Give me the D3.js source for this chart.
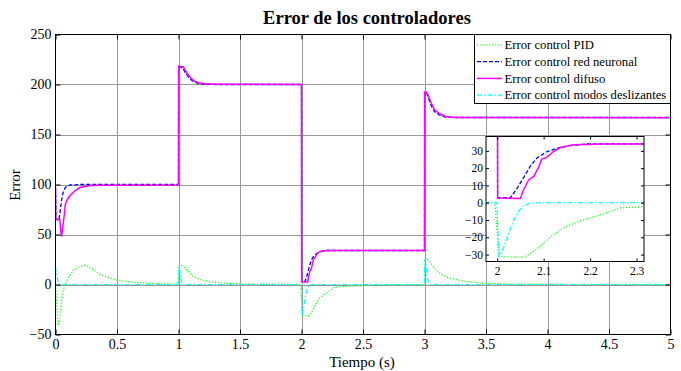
<!DOCTYPE html>
<html>
<head>
<meta charset="utf-8">
<script src="https://cdn.jsdelivr.net/npm/d3@7"></script>
<style>
  body { margin: 0; background: #fff; }
  text { font-family: "Liberation Serif", "Times New Roman", serif; fill: #000; }
</style>
</head>
<body>
<script>
// size of the page
var w = 681;
var h = 371;

// series: time (s) and error values
var tPID = [0, 0.01, 0.022, 0.035, 0.048, 0.062, 0.08, 0.104, 0.145, 0.186, 0.24, 0.295, 0.35, 0.42, 0.48, 0.55, 0.65, 0.8, 1.0,
            1.005, 1.014, 1.04, 1.08, 1.12, 1.175, 1.256, 1.337, 1.5, 1.991, 1.995, 2.004, 2.036, 2.057, 2.075, 2.093,
            2.121, 2.146, 2.179, 2.229, 2.264, 2.314, 2.4, 2.5, 2.7, 3.0, 3.005, 3.015, 3.05, 3.09, 3.14, 3.2, 3.28,
            3.36, 3.5, 3.7, 5.0];
var ePID = [0, -20, -41, -32, -19, -6, 0, 7, 14, 17.5, 19.3, 16, 11, 7.5, 5, 3.5, 2, 1, 0.3,
            19, 20, 18, 13, 8, 5, 2.7, 1.7, 0.5, 0.2, 0, -31, -31.5, -31.5, -29, -25,
            -18.5, -14, -10.5, -6.5, -3, -2.3, -1.7, -1, -0.3, 0, 26, 26.5, 21.7, 15, 10, 6.7, 4.3,
            2.7, 1.2, 0.4, 0];

var tNeural = [0, 0.003, 0.015, 0.027, 0.04, 0.05, 0.062, 0.08, 0.095, 0.12, 0.2, 1.0,
               1.001, 1.03, 1.06, 1.09, 1.12, 1.16, 1.2, 1.3, 2.0,
               2.001, 2.029, 2.043, 2.057, 2.071, 2.086, 2.107, 2.129, 2.157, 2.193, 2.25, 3.0,
               3.001, 3.02, 3.05, 3.08, 3.12, 3.17, 3.25, 5.0];
var eNeural = [97, 66, 65, 64, 75, 85, 92, 97, 98.5, 99.5, 100, 100,
               218, 217, 211, 206, 203, 201, 200.5, 200, 200,
               3, 3, 8.5, 14.5, 21, 26, 29.5, 31.5, 33, 34, 34, 34,
               192, 191, 180, 173, 169.5, 167.5, 167, 167];

var tFuzzy = [0, 0.003, 0.035, 0.046, 0.05, 0.06, 0.068, 0.08, 0.1, 0.12, 0.16, 0.2, 0.28, 0.4, 1.0,
              1.001, 1.04, 1.07, 1.1, 1.13, 1.16, 1.2, 1.3, 2.0,
              2.001, 2.05, 2.057, 2.068, 2.079, 2.089, 2.096, 2.107, 2.121, 2.136, 2.164, 2.229, 3.0,
              3.001, 3.02, 3.05, 3.08, 3.12, 3.17, 3.25, 5.0];
var eFuzzy = [97, 65, 65, 50, 48, 58, 66, 80, 86, 89, 94, 97, 99, 99.3, 99.5,
              218.3, 217.5, 211, 206.5, 203.5, 201.8, 201, 200.3, 200,
              2.7, 2.5, 7.5, 13.3, 15.2, 20.4, 25.2, 26.2, 29.6, 31.9, 33.5, 34, 34,
              192.5, 192, 183, 175, 171, 168, 167, 166.7];

var tSliding = [0, 0.01, 0.02, 0.03, 1.0, 1.003, 1.01, 1.02, 1.03, 1.986, 1.999, 2.004, 2.014, 2.029,
                2.043, 2.057, 2.071, 2.1, 3.0, 3.003, 3.01, 3.02, 3.035, 3.05, 5.0];
var eSliding = [18, 10, 3, 0, 0, 18, 14, 5, 0, 0, 0, -31, -26, -14.6,
                -6, -1.7, -0.2, 0, 0, 25, 20, 8, 2, 0, 0];

var seriesNames = ["Error control PID", "Error control red neuronal", "Error control difuso", "Error control modos deslizantes"];
var xTicks = [0, 0.5, 1, 1.5, 2, 2.5, 3, 3.5, 4, 4.5, 5];
var yTicks = [-50, 0, 50, 100, 150, 200, 250];
var insetXTicks = [2, 2.1, 2.2, 2.3];
var insetYTicks = [-30, -20, -10, 0, 10, 20, 30];

// styles for each series
var colors = ["#00ff00", "#0000ff", "#ff00ff", "#00ffff"];
var dashes = ["1.2,1.8", "4,2", null, "5,2,1.5,2"];
var widths = [1.2, 1.3, 1.5, 1.2];

var series = [
  d3.zip(tPID, ePID),
  d3.zip(tNeural, eNeural),
  d3.zip(tFuzzy, eFuzzy),
  d3.zip(tSliding, eSliding)
];

var svg = d3.select("body").append("svg")
  .attr("width", w)
  .attr("height", h);

var x = d3.scaleLinear().domain([0, 5]).range([55.5, 670.5]);
var y = d3.scaleLinear().domain([-50, 250]).range([334.5, 34.5]);

// grid
svg.append("g").selectAll("line").data(xTicks.slice(1, -1)).enter().append("line")
  .attr("x1", function(d) { return Math.round(x(d)) + 0.5; })
  .attr("x2", function(d) { return Math.round(x(d)) + 0.5; })
  .attr("y1", y(-50)).attr("y2", y(250))
  .attr("stroke", "#999").attr("stroke-width", 1);
svg.append("g").selectAll("line").data(yTicks.slice(1, -1)).enter().append("line")
  .attr("y1", function(d) { return Math.round(y(d)) + 0.5; })
  .attr("y2", function(d) { return Math.round(y(d)) + 0.5; })
  .attr("x1", x(0)).attr("x2", x(5))
  .attr("stroke", "#999").attr("stroke-width", 1);

// clip paths
var defs = svg.append("defs");
defs.append("clipPath").attr("id", "mainClip").append("rect")
  .attr("x", x(0)).attr("y", y(250)).attr("width", x(5) - x(0)).attr("height", y(-50) - y(250));

// main lines
var line = d3.line().x(function(d) { return x(d[0]); }).y(function(d) { return y(d[1]); });
var gMain = svg.append("g").attr("clip-path", "url(#mainClip)");
series.forEach(function(s, i) {
  gMain.append("path")
    .attr("d", line(s))
    .attr("fill", "none")
    .attr("stroke", colors[i])
    .attr("stroke-width", widths[i])
    .attr("stroke-dasharray", dashes[i]);
});

// axes with inward ticks
function styleAxis(g) {
  g.attr("font-family", null);
  g.select(".domain").remove();
  g.selectAll("text").style("font-size", "14px").style("font-family", "'Liberation Serif', serif");
  g.selectAll("line").attr("stroke", "#000");
}
svg.append("g").attr("transform", "translate(0," + y(-50) + ")")
  .call(d3.axisBottom(x).tickValues(xTicks).tickFormat(d3.format("")).tickSizeInner(-5).tickSizeOuter(0).tickPadding(5))
  .call(styleAxis);
svg.append("g").attr("transform", "translate(0," + y(250) + ")")
  .call(d3.axisTop(x).tickValues(xTicks).tickFormat("").tickSizeInner(-5).tickSizeOuter(0))
  .call(styleAxis);
svg.append("g").attr("transform", "translate(" + x(0) + ",0)")
  .call(d3.axisLeft(y).tickValues(yTicks).tickFormat(d3.format("")).tickSizeInner(-5).tickSizeOuter(0).tickPadding(4))
  .call(styleAxis);
svg.append("g").attr("transform", "translate(" + x(5) + ",0)")
  .call(d3.axisRight(y).tickValues(yTicks).tickFormat("").tickSizeInner(-5).tickSizeOuter(0))
  .call(styleAxis);

svg.append("rect")
  .attr("x", x(0)).attr("y", y(250))
  .attr("width", x(5) - x(0)).attr("height", y(-50) - y(250))
  .attr("fill", "none").attr("stroke", "#000").attr("stroke-width", 1);

// title and labels
svg.append("text").attr("x", 367).attr("y", 24).attr("text-anchor", "middle")
  .style("font-size", "18.5px").style("font-weight", "bold").text("Error de los controladores");
svg.append("text").attr("x", 362).attr("y", 367).attr("text-anchor", "middle")
  .style("font-size", "15px").text("Tiempo (s)");
svg.append("text").attr("transform", "translate(20,185) rotate(-90)").attr("text-anchor", "middle")
  .style("font-size", "15px").text("Error");

// legend
var lg = svg.append("g");
lg.append("rect").attr("x", 474.5).attr("y", 34.5).attr("width", 196).attr("height", 69)
  .attr("fill", "#fff").attr("stroke", "#000").attr("stroke-width", 1);
seriesNames.forEach(function(name, i) {
  var cy = 45 + i * 16.7;
  lg.append("line").attr("x1", 477).attr("x2", 502).attr("y1", cy).attr("y2", cy)
    .attr("stroke", colors[i]).attr("stroke-width", widths[i]).attr("stroke-dasharray", dashes[i]);
  lg.append("text").attr("x", 504.5).attr("y", cy + 4.3).style("font-size", "12.7px").text(name);
});

// inset zoom around t = 2
var ix = d3.scaleLinear().domain([1.976, 2.316]).range([486, 644]);
var iy = d3.scaleLinear().domain([-34, 38.3]).range([261.5, 136.5]);
var inset = svg.append("g");
inset.append("rect").attr("x", 486).attr("y", 136.5).attr("width", 158).attr("height", 125)
  .attr("fill", "#fff");
defs.append("clipPath").attr("id", "insetClip").append("rect")
  .attr("x", 486).attr("y", 136.5).attr("width", 158).attr("height", 125);
var iline = d3.line().x(function(d) { return ix(d[0]); }).y(function(d) { return iy(d[1]); });
var gInset = inset.append("g").attr("clip-path", "url(#insetClip)");
series.forEach(function(s, i) {
  gInset.append("path")
    .attr("d", iline(s))
    .attr("fill", "none")
    .attr("stroke", colors[i])
    .attr("stroke-width", widths[i])
    .attr("stroke-dasharray", dashes[i]);
});
function styleInset(g) {
  g.attr("font-family", null);
  g.select(".domain").remove();
  g.selectAll("text").style("font-size", "11.5px").style("font-family", "'Liberation Serif', serif");
  g.selectAll("line").attr("stroke", "#000");
}
inset.append("g").attr("transform", "translate(0,261.5)")
  .call(d3.axisBottom(ix).tickValues(insetXTicks).tickFormat(d3.format("")).tickSizeInner(-3).tickSizeOuter(0).tickPadding(5))
  .call(styleInset);
inset.append("g").attr("transform", "translate(0,136.5)")
  .call(d3.axisTop(ix).tickValues(insetXTicks).tickFormat("").tickSizeInner(-3).tickSizeOuter(0))
  .call(styleInset);
inset.append("g").attr("transform", "translate(486,0)")
  .call(d3.axisLeft(iy).tickValues(insetYTicks).tickFormat(d3.format("")).tickSizeInner(-3).tickSizeOuter(0).tickPadding(3))
  .call(styleInset);
inset.append("g").attr("transform", "translate(644,0)")
  .call(d3.axisRight(iy).tickValues(insetYTicks).tickFormat("").tickSizeInner(-3).tickSizeOuter(0))
  .call(styleInset);
inset.append("rect").attr("x", 486).attr("y", 136.5).attr("width", 158).attr("height", 125)
  .attr("fill", "none").attr("stroke", "#000").attr("stroke-width", 1);
</script>
</body>
</html>
